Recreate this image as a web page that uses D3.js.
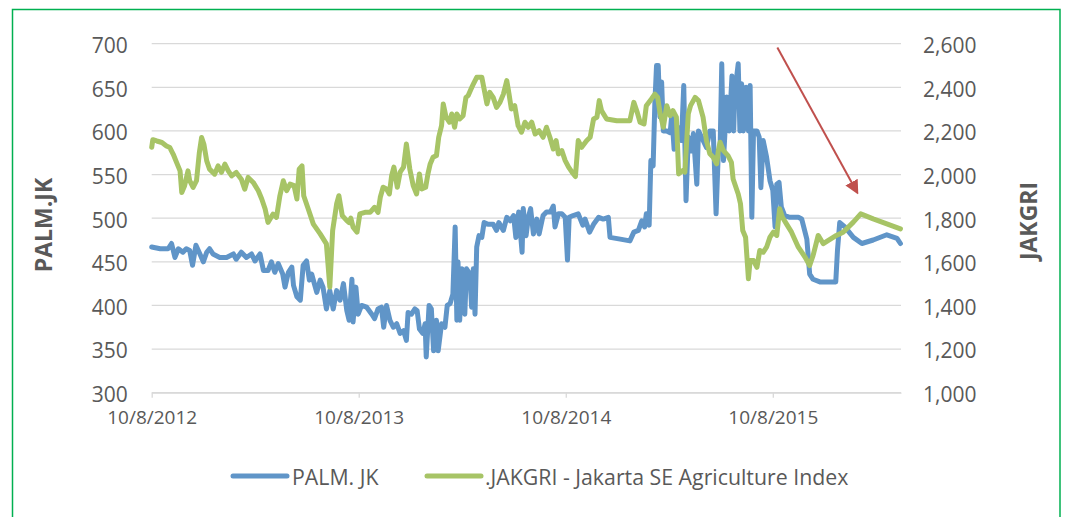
<!DOCTYPE html>
<html lang="en">
  <head>
    <meta charset="UTF-8" />
    <title>PALM.JK vs JAKGRI</title>
    <script src="https://d3js.org/d3.v7.min.js"></script>
    <style>
      body { margin: 0; background: #fff; }
      svg text { font-family: "Open Sans", sans-serif; fill: #595959; }
    </style>
  </head>
  <body>
    <svg id="chart"></svg>

    <script>
      // ---- data ----
      let palmDates = [
        '2012-10-08','2012-10-23','2012-11-06','2012-11-12','2012-11-18','2012-11-24','2012-12-02','2012-12-08',
        '2012-12-14','2012-12-19','2012-12-25','2013-01-01','2013-01-07','2013-01-13','2013-01-18','2013-01-24',
        '2013-02-05','2013-02-17','2013-03-01','2013-03-06','2013-03-15','2013-03-24','2013-04-02','2013-04-08',
        '2013-04-17','2013-04-23','2013-05-01','2013-05-07','2013-05-13','2013-05-19','2013-05-27','2013-05-31',
        '2013-06-06','2013-06-12','2013-06-15','2013-06-21','2013-06-27','2013-07-02','2013-07-08','2013-07-13',
        '2013-07-17','2013-07-26','2013-08-01','2013-08-06','2013-08-12','2013-08-18','2013-08-24','2013-08-30',
        '2013-09-05','2013-09-11','2013-09-17','2013-09-21','2013-09-26','2013-09-28','2013-10-03','2013-10-07',
        '2013-10-13','2013-10-22','2013-10-31','2013-11-05','2013-11-11','2013-11-17','2013-11-21','2013-11-26',
        '2013-12-02','2013-12-08','2013-12-14','2013-12-20','2013-12-26','2013-12-31','2014-01-03','2014-01-09',
        '2014-01-15','2014-01-19','2014-01-23','2014-01-29','2014-02-02','2014-02-04','2014-02-09','2014-02-13',
        '2014-02-17','2014-02-22','2014-02-25','2014-03-03','2014-03-09','2014-03-13','2014-03-18','2014-03-23',
        '2014-03-27','2014-03-30','2014-04-01','2014-04-04','2014-04-08','2014-04-13','2014-04-16','2014-04-22',
        '2014-04-25','2014-04-28','2014-05-01','2014-05-04','2014-05-08','2014-05-13','2014-05-17','2014-05-24',
        '2014-06-02','2014-06-08','2014-06-12','2014-06-20','2014-06-26','2014-07-02','2014-07-08','2014-07-12',
        '2014-07-17','2014-07-23','2014-07-25','2014-07-30','2014-08-03','2014-08-07','2014-08-12','2014-08-18',
        '2014-08-22','2014-08-29','2014-09-04','2014-09-11','2014-09-16','2014-09-19','2014-09-25','2014-10-01',
        '2014-10-07','2014-10-11','2014-10-14','2014-10-21','2014-10-30','2014-11-07','2014-11-11','2014-11-19',
        '2014-11-26','2014-12-05','2014-12-13','2014-12-22','2014-12-25','2015-01-12','2015-01-29','2015-02-05',
        '2015-02-13','2015-02-19','2015-02-24','2015-02-27','2015-03-04','2015-03-07','2015-03-11','2015-03-14',
        '2015-03-17','2015-03-20','2015-03-23','2015-03-26','2015-03-29','2015-04-04','2015-04-10','2015-04-13',
        '2015-04-17','2015-04-20','2015-04-24','2015-04-30','2015-05-04','2015-05-08','2015-05-12','2015-05-18',
        '2015-05-21','2015-05-27','2015-05-30','2015-06-13','2015-06-19','2015-06-25','2015-06-30','2015-07-04',
        '2015-07-07','2015-07-10','2015-07-13','2015-07-19','2015-07-23','2015-07-28','2015-07-31','2015-08-02',
        '2015-08-08','2015-08-11','2015-08-14','2015-08-17','2015-08-22','2015-08-26','2015-08-29','2015-09-01',
        '2015-09-04','2015-09-10','2015-09-14','2015-09-17','2015-09-21','2015-09-27','2015-10-03','2015-10-08',
        '2015-10-12','2015-10-15','2015-10-19','2015-10-23','2015-10-29','2015-11-07','2015-11-22','2015-11-28',
        '2015-12-07','2015-12-12','2015-12-18','2015-12-30','2016-01-14','2016-01-27','2016-01-30','2016-02-03',
        '2016-02-12','2016-02-27','2016-03-13','2016-04-02','2016-04-26','2016-05-14','2016-05-20'
      ]
      let palmValues = [
        467,465,465,471,455,465,461,465,
        463,446,469,459,450,461,465,459,
        455,455,459,453,461,455,459,451,
        459,440,440,450,438,448,436,421,
        438,444,423,410,406,446,451,429,
        436,415,429,421,396,417,396,417,
        406,425,394,383,430,381,421,390,
        400,398,390,385,396,398,375,400,
        383,375,379,368,371,360,392,390,
        396,394,373,368,379,341,400,396,
        348,383,348,379,375,400,402,413,
        490,383,450,383,442,390,442,436,
        398,442,390,467,480,478,495,493,
        493,486,495,486,501,497,503,478,
        507,461,511,480,501,511,482,499,
        482,503,507,507,514,490,505,505,
        501,452,501,503,505,492,499,484,
        493,501,499,501,478,476,474,484,
        486,497,490,505,492,566,560,631,
        675,675,616,656,600,600,598,619,
        579,597,604,589,652,520,593,577,
        597,539,600,581,600,600,505,577,
        577,677,566,639,600,663,600,644,
        677,600,654,600,650,600,652,501,
        600,600,593,535,589,570,543,532,
        490,539,541,513,503,501,501,499,
        476,436,430,427,427,427,463,495,
        490,478,471,475,481,477,471
      ]

      let jakgriDates = [
        '2012-10-08','2012-10-10','2012-10-17','2012-10-26','2012-11-03','2012-11-09','2012-11-15','2012-11-21',
        '2012-11-27','2012-11-30','2012-12-05','2012-12-11','2012-12-14','2012-12-20','2012-12-26','2012-12-31',
        '2013-01-04','2013-01-08','2013-01-13','2013-01-18','2013-01-27','2013-02-02','2013-02-08','2013-02-14',
        '2013-02-20','2013-02-26','2013-03-06','2013-03-15','2013-03-21','2013-03-27','2013-04-05','2013-04-14',
        '2013-04-20','2013-04-26','2013-05-01','2013-05-10','2013-05-16','2013-05-22','2013-05-28','2013-06-03',
        '2013-06-09','2013-06-16','2013-06-21','2013-06-25','2013-06-30','2013-07-03','2013-07-11','2013-07-20',
        '2013-08-01','2013-08-12','2013-08-18','2013-08-23','2013-08-30','2013-09-03','2013-09-09','2013-09-17',
        '2013-09-21','2013-09-24','2013-09-28','2013-10-05','2013-10-10','2013-10-19','2013-10-28','2013-11-05',
        '2013-11-11','2013-11-15','2013-11-20','2013-11-26','2013-12-01','2013-12-05','2013-12-09','2013-12-15',
        '2013-12-20','2013-12-26','2013-12-31','2014-01-06','2014-01-12','2014-01-18','2014-01-23','2014-01-27',
        '2014-02-03','2014-02-07','2014-02-11','2014-02-16','2014-02-22','2014-02-26','2014-03-03','2014-03-06',
        '2014-03-11','2014-03-17','2014-03-21','2014-03-26','2014-03-30','2014-04-04','2014-04-10','2014-04-15',
        '2014-04-19','2014-04-24','2014-04-28','2014-05-04','2014-05-13','2014-05-17','2014-05-22','2014-05-27',
        '2014-06-02','2014-06-08','2014-06-14','2014-06-20','2014-06-26','2014-06-30','2014-07-04','2014-07-10',
        '2014-07-16','2014-07-22','2014-07-28','2014-08-03','2014-08-09','2014-08-15','2014-08-22','2014-08-29',
        '2014-09-04','2014-09-10','2014-09-16','2014-09-21','2014-09-25','2014-10-01','2014-10-07','2014-10-13',
        '2014-10-19','2014-10-25','2014-10-30','2014-11-05','2014-11-14','2014-11-20','2014-11-26','2014-12-02',
        '2014-12-06','2014-12-10','2014-12-19','2015-01-06','2015-01-29','2015-02-05','2015-02-11','2015-02-16',
        '2015-02-23','2015-02-27','2015-03-08','2015-03-14','2015-03-19','2015-03-23','2015-03-29','2015-04-04',
        '2015-04-10','2015-04-15','2015-04-21','2015-04-25','2015-05-02','2015-05-06','2015-05-12','2015-05-16',
        '2015-05-24','2015-05-30','2015-06-07','2015-06-13','2015-06-19','2015-06-25','2015-07-01','2015-07-04',
        '2015-07-07','2015-07-13','2015-07-21','2015-07-27','2015-07-30','2015-08-08','2015-08-12','2015-08-16',
        '2015-08-21','2015-08-26','2015-08-29','2015-09-04','2015-09-10','2015-09-15','2015-09-21','2015-09-27',
        '2015-10-03','2015-10-09','2015-10-15','2015-10-20','2015-10-25','2015-11-01','2015-11-10','2015-11-22',
        '2015-12-04','2015-12-12','2015-12-18','2015-12-27','2016-01-05','2016-01-14','2016-01-28','2016-02-09',
        '2016-02-27','2016-03-11','2016-04-02','2016-04-26','2016-05-20'
      ]
      let jakgriValues = [
        2125,2160,2154,2147,2131,2124,2093,2055,
        2017,1918,1949,2017,1972,1941,1972,2101,
        2170,2139,2063,2025,2002,2040,2010,2048,
        2017,1994,2010,1979,1933,1987,1964,1926,
        1888,1842,1781,1819,1804,1903,1972,1926,
        1956,1949,1888,2025,2040,1903,1842,1773,
        1728,1682,1484,1743,1865,1903,1812,1789,
        1780,1800,1759,1736,1820,1827,1827,1850,
        1827,1896,1942,1934,1911,1995,2034,1942,
        2011,2034,2140,2026,1950,1911,2003,1934,
        1942,2003,2049,2079,2087,2171,2224,2324,
        2263,2240,2278,2217,2278,2255,2270,2354,
        2362,2392,2415,2446,2446,2392,2324,2377,
        2354,2308,2331,2369,2431,2369,2301,2316,
        2224,2194,2240,2217,2240,2186,2201,2171,
        2217,2171,2117,2156,2095,2110,2064,2034,
        2011,1991,2156,2125,2156,2171,2255,2263,
        2339,2293,2255,2247,2247,2331,2285,2240,
        2232,2316,2347,2369,2354,2285,2217,2316,
        2270,2293,2263,2003,2018,2011,2278,2316,
        2354,2339,2263,2156,2095,2079,2049,2110,
        2148,2110,2087,2056,1980,1911,1866,1744,
        1713,1522,1606,1606,1575,1652,1644,1667,
        1713,1736,1721,1843,1804,1774,1736,1667,
        1621,1583,1629,1721,1683,1698,1721,1736,
        1782,1820,1797,1774,1751
      ]

      let xDomain = ['2012-10-08', '2016-05-21']
      let xTickDates = ['2012-10-08', '2013-10-08', '2014-10-08', '2015-10-08']
      let leftTicks = [300, 350, 400, 450, 500, 550, 600, 650, 700]
      let rightTicks = [1000, 1200, 1400, 1600, 1800, 2000, 2200, 2400, 2600]
      let seriesNames = ['PALM. JK', '.JAKGRI - Jakarta SE Agriculture Index']
      // red annotation arrow, in date / JAKGRI units
      let arrowFrom = ['2015-10-16', 2583]
      let arrowTo = ['2016-03-05', 1917]

      // ---- layout ----
      let width = 1065
      let height = 517
      let margin = { left: 151.7, right: 1065 - 901, top: 43.7, bottom: 517 - 392.7 }
      let blue = '#6095c8'
      let green = '#a7c466'
      let gridColor = '#d9d9d9'

      let parse = d3.utcParse('%Y-%m-%d')
      let fmt = d3.utcFormat('%-m/%-d/%Y')

      let svg = d3.select('#chart').attr('width', width).attr('height', height)

      svg.append('rect')
        .attr('x', 12.5).attr('y', 9.5)
        .attr('width', 1047.5).attr('height', 530)
        .attr('fill', '#fff')
        .attr('stroke', '#00b050')
        .attr('stroke-width', 1.5)

      let x = d3.scaleUtc()
        .domain(xDomain.map(parse))
        .range([margin.left, width - margin.right])
      let yLeft = d3.scaleLinear()
        .domain([300, 700])
        .range([height - margin.bottom, margin.top])
      let yRight = d3.scaleLinear()
        .domain([1000, 2600])
        .range([height - margin.bottom, margin.top])

      // gridlines
      svg.append('g')
        .selectAll('line')
        .data(leftTicks)
        .enter()
        .append('line')
        .attr('x1', x.range()[0]).attr('x2', x.range()[1])
        .attr('y1', d => yLeft(d)).attr('y2', d => yLeft(d))
        .attr('stroke', gridColor)
        .attr('stroke-width', 1.3)

      // left axis labels
      let leftAxis = d3.axisLeft(yLeft).tickValues(leftTicks).tickSize(0).tickPadding(24)
      let gl = svg.append('g').attr('transform', `translate(${margin.left},0)`).call(leftAxis)
      gl.select('.domain').remove()
      gl.selectAll('text').style('font-size', '21px').attr('dy', '0.42em').attr('dx', '0')

      // right axis labels
      let rightAxis = d3.axisRight(yRight).tickValues(rightTicks).tickSize(0).tickPadding(22)
        .tickFormat(d3.format(','))
      let gr = svg.append('g').attr('transform', `translate(${width - margin.right},0)`).call(rightAxis)
      gr.select('.domain').remove()
      gr.selectAll('text').style('font-size', '21px').attr('dy', '0.42em')

      // x axis
      let xAxis = d3.axisBottom(x)
        .tickValues(xTickDates.map(parse))
        .tickFormat(fmt)
        .tickSizeInner(5).tickSizeOuter(0).tickPadding(13)
      let gx = svg.append('g').attr('transform', `translate(0,${height - margin.bottom})`).call(xAxis)
      gx.select('.domain').attr('stroke', gridColor).attr('stroke-width', 1.3)
      gx.selectAll('.tick line').attr('stroke', gridColor).attr('stroke-width', 1.3)
      gx.selectAll('text').style('font-size', '19px')

      // axis titles
      svg.append('text')
        .attr('transform', 'translate(52,225) rotate(-90)')
        .attr('text-anchor', 'middle')
        .style('font-size', '23px').style('font-weight', 'bold')
        .text('PALM.JK')
      svg.append('text')
        .attr('transform', 'translate(1036.5,221) rotate(-90)')
        .attr('text-anchor', 'middle')
        .style('font-size', '23px').style('font-weight', 'bold')
        .text('JAKGRI')

      // series
      let palm = palmDates.map((d, i) => ({ date: parse(d), value: palmValues[i] }))
      let jakgri = jakgriDates.map((d, i) => ({ date: parse(d), value: jakgriValues[i] }))

      let palmLine = d3.line().x(d => x(d.date)).y(d => yLeft(d.value))
      let jakgriLine = d3.line().x(d => x(d.date)).y(d => yRight(d.value))

      svg.append('path')
        .datum(palm)
        .attr('d', palmLine)
        .attr('fill', 'none')
        .attr('stroke', blue)
        .attr('stroke-width', 5)
        .attr('stroke-linejoin', 'round')
        .attr('stroke-linecap', 'round')

      svg.append('path')
        .datum(jakgri)
        .attr('d', jakgriLine)
        .attr('fill', 'none')
        .attr('stroke', green)
        .attr('stroke-width', 5)
        .attr('stroke-linejoin', 'round')
        .attr('stroke-linecap', 'round')

      // arrow
      svg.append('defs').append('marker')
        .attr('id', 'head')
        .attr('viewBox', '0 -7 14 14')
        .attr('refX', 12).attr('refY', 0)
        .attr('markerUnits', 'userSpaceOnUse')
        .attr('markerWidth', 14).attr('markerHeight', 14)
        .attr('orient', 'auto')
        .append('path')
        .attr('d', 'M0,-7L14,0L0,7Z')
        .attr('fill', '#c0504d')

      svg.append('line')
        .attr('x1', x(parse(arrowFrom[0]))).attr('y1', yRight(arrowFrom[1]))
        .attr('x2', x(parse(arrowTo[0]))).attr('y2', yRight(arrowTo[1]))
        .attr('stroke', '#c0504d')
        .attr('stroke-width', 2)
        .attr('marker-end', 'url(#head)')

      // legend
      let legend = svg.append('g')
      let legendItems = [
        { name: seriesNames[0], color: blue, x0: 233, x1: 287, tx: 292 },
        { name: seriesNames[1], color: green, x0: 427, x1: 481, tx: 485 }
      ]
      legendItems.forEach(it => {
        legend.append('line')
          .attr('x1', it.x0).attr('x2', it.x1)
          .attr('y1', 476).attr('y2', 476)
          .attr('stroke', it.color)
          .attr('stroke-width', 5)
          .attr('stroke-linecap', 'round')
        legend.append('text')
          .attr('x', it.tx).attr('y', 484.5)
          .style('font-size', '21.3px')
          .text(it.name)
      })
    </script>
  </body>
</html>
